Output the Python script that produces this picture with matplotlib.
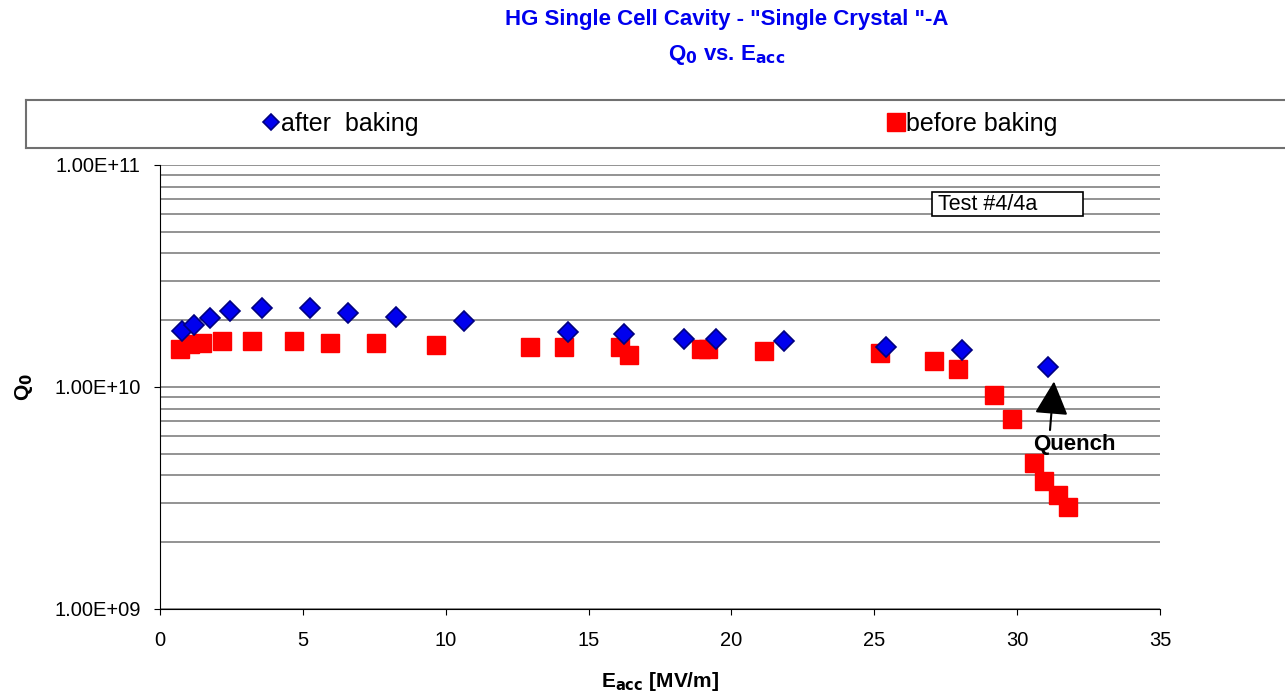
import numpy as np
import matplotlib
matplotlib.use("Agg")
import matplotlib.pyplot as plt
from matplotlib.ticker import LogLocator, NullFormatter, FixedLocator
from matplotlib.patches import Rectangle

plt.rcParams['font.family'] = ['Liberation Sans', 'DejaVu Sans']

# data
after_x = [0.77, 1.19, 1.75, 2.45, 3.57, 5.25, 6.58, 8.26, 10.64, 14.28, 16.24,
           18.34, 19.46, 21.84, 25.41, 28.07, 31.08]
after_q = [1.79e10, 1.90e10, 2.05e10, 2.20e10, 2.27e10, 2.27e10, 2.16e10, 2.07e10,
           1.98e10, 1.77e10, 1.74e10, 1.64e10, 1.64e10, 1.61e10, 1.51e10, 1.47e10, 1.23e10]

before_x = [0.70, 1.05, 1.47, 2.17, 3.22, 4.69, 5.95, 7.56, 9.66, 12.95, 14.14,
            16.10, 16.42, 18.94, 19.18, 21.14, 25.20, 27.09, 27.93, 29.19, 29.82,
            30.59, 30.94, 31.43, 31.78]
before_q = [1.48e10, 1.56e10, 1.58e10, 1.61e10, 1.61e10, 1.61e10, 1.58e10, 1.58e10,
            1.55e10, 1.51e10, 1.51e10, 1.51e10, 1.39e10, 1.48e10, 1.48e10, 1.45e10,
            1.42e10, 1.31e10, 1.21e10, 9.2e9, 7.18e9, 4.55e9, 3.77e9, 3.27e9, 2.88e9]

x_ticks = [0, 5, 10, 15, 20, 25, 30, 35]
y_ticks = [1e9, 1e10, 1e11]
y_tick_labels = ["1.00E+09", "1.00E+10", "1.00E+11"]

fig = plt.figure(figsize=(12.85, 7.0), dpi=100)
ax = fig.add_axes([160/1285, 1 - 609/700, 1000/1285, 444/700])

l_before, = ax.plot(before_x, before_q, linestyle="none", marker="s", markersize=13,
                    color="#ff0000", markeredgecolor="#ff0000", label="before baking", zorder=3)
l_after, = ax.plot(after_x, after_q, linestyle="none", marker="D", markersize=10.5,
                   color="#0000ee", markeredgecolor="#000080", markeredgewidth=1.2,
                   label="after  baking", zorder=4)

ax.set_yscale("log")
ax.set_xlim(0, 35)
ax.set_ylim(1e9, 1e11)
ax.xaxis.set_major_locator(FixedLocator(x_ticks))
ax.yaxis.set_major_locator(FixedLocator(y_ticks))
ax.set_yticklabels(y_tick_labels)
ax.yaxis.set_minor_locator(LogLocator(base=10, subs=np.arange(2, 10)))
ax.yaxis.set_minor_formatter(NullFormatter())
ax.tick_params(axis="y", which="minor", length=0)
ax.tick_params(axis="both", which="major", labelsize=14.5, length=4, direction="out")
ax.tick_params(axis="y", which="major", pad=10)
ax.tick_params(axis="x", which="major", pad=12)
ax.grid(True, which="both", axis="y", color="#808080", linewidth=1.2)
ax.set_axisbelow(True)
for s in ["top", "right"]:
    ax.spines[s].set_visible(False)

ax.set_xlabel("E$_{\\mathbf{acc}}$ [MV/m]", fontsize=15, fontweight="bold")
ax.xaxis.set_label_coords(0.5, -0.138)
ax.set_ylabel("Q$_\\mathbf{0}$", fontsize=15, fontweight="bold")
ax.yaxis.set_label_coords(-0.125, 0.5)

# test label box
ax.add_patch(Rectangle((0.772, 0.885), 0.151, 0.054, transform=ax.transAxes,
                       facecolor="white", edgecolor="black", linewidth=1.2, zorder=5))
ax.text(0.778, 0.911, "Test #4/4a", transform=ax.transAxes, fontsize=15.5,
        va="center", ha="left", zorder=6)

# quench arrow
ax.annotate("", xy=(31.29, 1.06e10), xytext=(31.15, 6.4e9),
            arrowprops=dict(arrowstyle="-|>,head_width=0.4,head_length=0.8",
                            color="black", lw=1.5, mutation_scale=26,
                            shrinkA=0, shrinkB=0), zorder=6)
ax.text(32.0, 5.5e9, "Quench", fontsize=16, fontweight="bold", ha="center", va="center")

# titles
fig.text(727/1285, 1 - 20/700, 'HG Single Cell Cavity - "Single Crystal "-A', color="#0000ee",
         fontsize=16, fontweight="bold", ha="center", va="center")
fig.text(727/1285, 1 - 55/700, "Q$_\\mathbf{0}$ vs. E$_{\\mathbf{acc}}$", color="#0000ee",
         fontsize=16, fontweight="bold", ha="center", va="center")

# legend box
legax = fig.add_axes([26/1285, 1 - 148/700, 1.0, 48/700])
legax.set_xticks([])
legax.set_yticks([])
for s in legax.spines.values():
    s.set_edgecolor("#707070")
    s.set_linewidth(1.5)
leg1 = legax.legend(handles=[l_after], loc="center left", bbox_to_anchor=(226/1285, 0.5),
                    frameon=False, fontsize=18, handlelength=0.5, handletextpad=0.15,
                    markerscale=0.75, borderpad=0)
legax.add_artist(leg1)
legax.legend(handles=[l_before], loc="center left", bbox_to_anchor=(851/1285, 0.5),
             frameon=False, fontsize=18, handlelength=0.5, handletextpad=0.15,
             markerscale=0.95, borderpad=0)

fig.savefig("out.png", dpi=100)
